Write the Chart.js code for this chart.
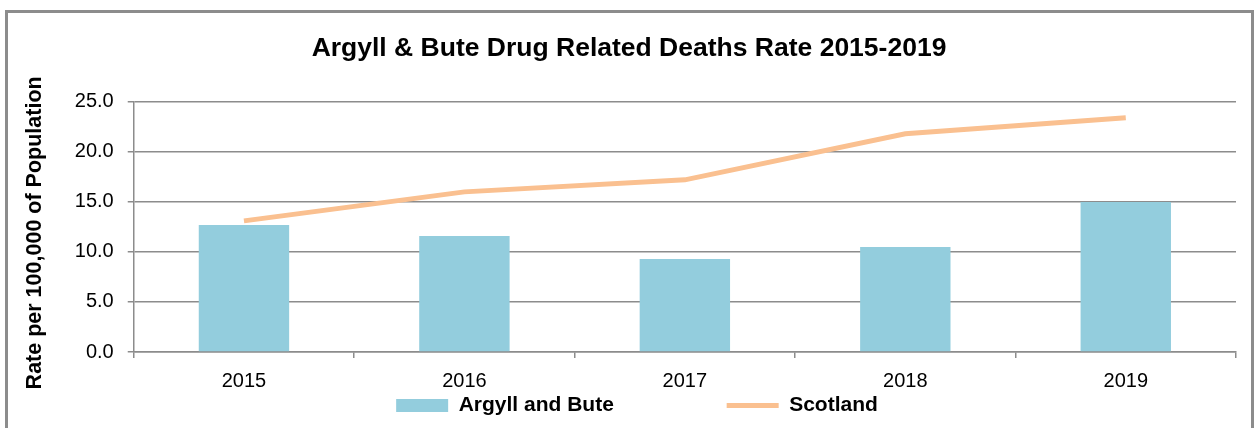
<!DOCTYPE html>
<html>
<head>
<meta charset="utf-8">
<script src="https://cdn.jsdelivr.net/npm/chart.js@4.4.1/dist/chart.umd.min.js"></script>
<style>
  body { margin: 0; background: #fff; }
  #frame { position: absolute; left: 5px; top: 10px; width: 1243px; height: 440px; border: 3px solid #8c8c8c; }
  #myChart { position: absolute; left: 0; top: 0; }
</style>
</head>
<body>
<div id="frame"></div>
<canvas id="myChart" width="1255" height="428"></canvas>
<script>
'use strict';

var years = ['2015', '2016', '2017', '2018', '2019'];
var argyllRates = [12.7, 11.6, 9.3, 10.5, 15.0];
var scotlandRates = [13.1, 16.0, 17.2, 21.8, 23.4];
var yTicks = [0, 5, 10, 15, 20, 25];

var fontFamily = '"Liberation Sans", Arial, sans-serif';
var gridColor = '#8c8c8c';
// em spaces after the first legend entry, to open up the gap between entries
var legendGap = '\u2003\u2003\u2003\u2003\u2003 ';

// nudge the legend row a little to the right, like the original
var legendShift = {
  id: 'legendShift',
  afterLayout: function (chart) {
    chart.legend.left += 8;
    chart.legend.right += 8;
  }
};

var ctx = document.getElementById('myChart').getContext('2d');
var chart = new Chart(ctx, {
  type: 'bar',
  data: {
    labels: years,
    datasets: [{
      type: 'line',
      label: 'Scotland',
      data: scotlandRates,
      borderColor: '#fac090',
      backgroundColor: '#fac090',
      borderWidth: 5,
      pointRadius: 0,
      pointStyle: 'line',
      tension: 0,
      order: 0
    }, {
      type: 'bar',
      label: 'Argyll and Bute',
      data: argyllRates,
      backgroundColor: '#93cddd',
      borderWidth: 0,
      pointStyle: 'rect',
      barPercentage: 0.41,
      categoryPercentage: 1,
      order: 1
    }]
  },
  plugins: [legendShift],
  options: {
    responsive: false,
    animation: false,
    layout: { padding: { left: 22, right: 19, top: 0, bottom: 2 } },
    plugins: {
      title: {
        display: true,
        text: 'Argyll & Bute Drug Related Deaths Rate 2015-2019',
        color: '#000',
        font: { family: fontFamily, size: 26.5, weight: 'bold' },
        padding: { top: 33, bottom: 37 }
      },
      legend: {
        position: 'bottom',
        labels: {
          usePointStyle: true,
          pointStyleWidth: 52,
          boxHeight: 13,
          padding: 2,
          color: '#000',
          font: { family: fontFamily, size: 21, weight: 'bold' },
          sort: function (a, b) { return b.datasetIndex - a.datasetIndex; },
          filter: function (item) {
            if (item.datasetIndex === 1) {
              item.text = item.text + legendGap;
            }
            return true;
          }
        }
      },
      tooltip: { enabled: false }
    },
    scales: {
      x: {
        offset: true,
        grid: { offset: true, drawOnChartArea: false, color: gridColor, lineWidth: 1.5, tickLength: 6 },
        border: { color: gridColor, width: 1.5 },
        ticks: { color: '#000', padding: 11, font: { family: fontFamily, size: 20 } },
        afterFit: function (axis) {
          axis.height -= 11;
        }
      },
      y: {
        min: 0,
        max: 25,
        afterBuildTicks: function (axis) {
          axis.ticks = yTicks.map(function (v) { return { value: v }; });
        },
        grid: { color: gridColor, lineWidth: 1.5, tickLength: 6 },
        border: { color: gridColor, width: 1.5 },
        ticks: {
          color: '#000',
          padding: 14,
          font: { family: fontFamily, size: 20 },
          callback: function (v) { return v.toFixed(1); }
        },
        title: {
          display: true,
          text: 'Rate per 100,000 of Population  ',
          color: '#000',
          font: { family: fontFamily, size: 21.5, weight: 'bold' },
          padding: { top: 0, bottom: 13 }
        }
      }
    }
  }
});
</script>
</body>
</html>
